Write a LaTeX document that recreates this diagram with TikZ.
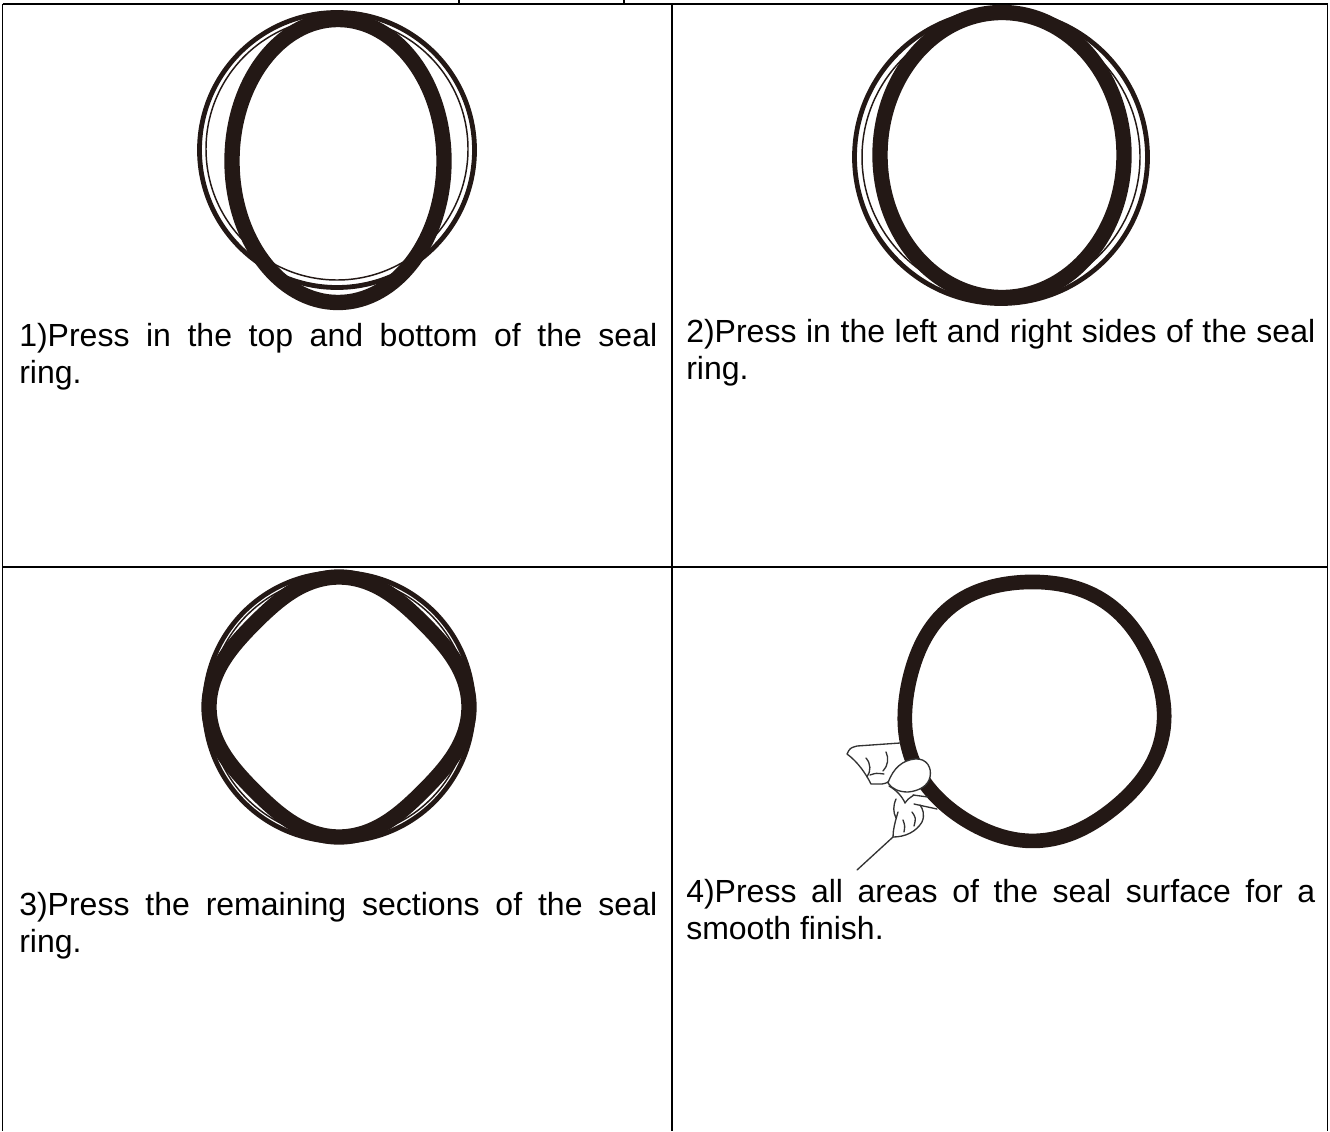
\documentclass[tikz,border=0pt]{standalone}
\usepackage{fontspec}
\setmainfont{Liberation Sans}
\definecolor{rubber}{RGB}{35,24,21}

\begin{document}
\begin{tikzpicture}[x=0.75pt, y=-0.75pt,
    rule/.style={draw=black, line width=0.9pt},
    heavyrule/.style={draw=black, line width=1.6pt},
    ring/.style={draw=rubber, line width=11.5pt},
    rim/.style={draw=rubber, line width=3.6pt},
    hairline/.style={draw=rubber, line width=1.1pt},
    hand/.style={draw=black!80, line width=1pt, line cap=round, line join=round},
    caption/.style={anchor=base west, inner sep=0pt, text width=#1, align=justify,
        font={\fontsize{24}{27.75}\selectfont\hyphenpenalty=10000\tolerance=9999}},
]
\useasboundingbox (0,0) rectangle (1330,1131);

% table grid
\coordinate (tl) at (2.5,4);
\coordinate (tr) at (1327.5,4);
\coordinate (ml) at (2.5,567);
\coordinate (mr) at (1327.5,567);
\coordinate (bl) at (2.5,1131);
\coordinate (br) at (1327.5,1131);
\coordinate (tm) at (672,4);
\coordinate (bm) at (672,1131);
\draw[rule] (tl) -- (bl);
\draw[rule] (tr) -- (br);
\draw[rule] (tm) -- (bm);
\draw[heavyrule] (tl) -- (tr);
\draw[heavyrule] (ml) -- (mr);
% tails of the heading line above
\draw[line width=1.5pt] (459,0) -- (459,4);
\draw[line width=1.5pt] (624,0) -- (624,4);

% 1) top and bottom pressed in
\draw[rim] (337,150) circle (137.5);
\draw[hairline] (337,149) circle (131);
\draw[ring] (338,161) ellipse [x radius=106, y radius=141.5];

% 2) left and right pressed in
\draw[rim] (1001,157) circle (146.5);
\draw[hairline] (1001,157) circle (139);
\draw[ring] (1002,155) ellipse [x radius=122, y radius=142.5];

% 3) remaining sections
\draw[rim] (339,707) circle (134.5);
\draw[hairline] (339,707) circle (130);
\begin{scope}[shift={(339,707)}]
  \draw[ring] plot[smooth cycle, domain=0:357, samples=120]
    (\x:{130-11*sin(2*\x)^2});
\end{scope}

% 4) whole surface, pressed by hand
\begin{scope}[shift={(1033,710)}]
  \draw[ring, line width=11pt] plot[smooth cycle, domain=0:356, samples=90]
    (\x:{129.5+1.5*sin(5*\x+20)+1*cos(3*\x)});
\end{scope}

% hand
\draw[hand] (900,743) -- (857,746) .. controls (850,748) .. (847,754)
  .. controls (858,762) and (866,774) .. (871,784) -- (882,784)
  .. controls (887,783) .. (891,779);
\draw[hand] (866,758) .. controls (871,764) and (871,771) .. (867,777);
\draw[hand] (886,752) .. controls (889,758) and (888,766) .. (883,771);
\draw[hand] (870,775) .. controls (876,773) .. (884,774);
\draw[hand, fill=white] (888,783) .. controls (893,768) and (903,760) .. (915,759)
  .. controls (927,758) and (932,768) .. (930,777)
  .. controls (928,786) and (919,791) .. (908,792)
  .. controls (899,792) and (892,789) .. (888,783) -- cycle;
\draw[hand] (889,786) .. controls (896,790) and (902,796) .. (905,803);
\draw[hand] (896,799) .. controls (893,806) and (893,812) .. (896,818);
\draw[hand] (905,803) .. controls (908,799) .. (914,795);
\draw[hand] (913,795) -- (928,797);
\draw[hand] (914,804) -- (937,809);
\draw[hand] (898,812) .. controls (895,822) and (893,830) .. (893,837);
\draw[hand] (893,837) .. controls (905,837) and (916,832) .. (922,822)
  .. controls (925,815) and (923,809) .. (920,805);
\draw[hand] (903,820) .. controls (905,826) .. (904,832);
\draw[hand] (912,812) .. controls (916,818) .. (914,826);
\draw[hand] (893,837) -- (857,870);

% captions
\node[caption=478.5pt] (cap1) at (19,346) {1)Press in the top and bottom of the seal\linebreak ring.};
\node[caption=471.75pt] (cap2) at (686,342) {2)Press in the left and right sides of the seal\linebreak ring.};
\node[caption=478.5pt] (cap3) at (19,915) {3)Press the remaining sections of the seal\linebreak ring.};
\node[caption=471.75pt] (cap4) at (686,902) {4)Press all areas of the seal surface for a\linebreak smooth finish.};
\end{tikzpicture}
\end{document}
